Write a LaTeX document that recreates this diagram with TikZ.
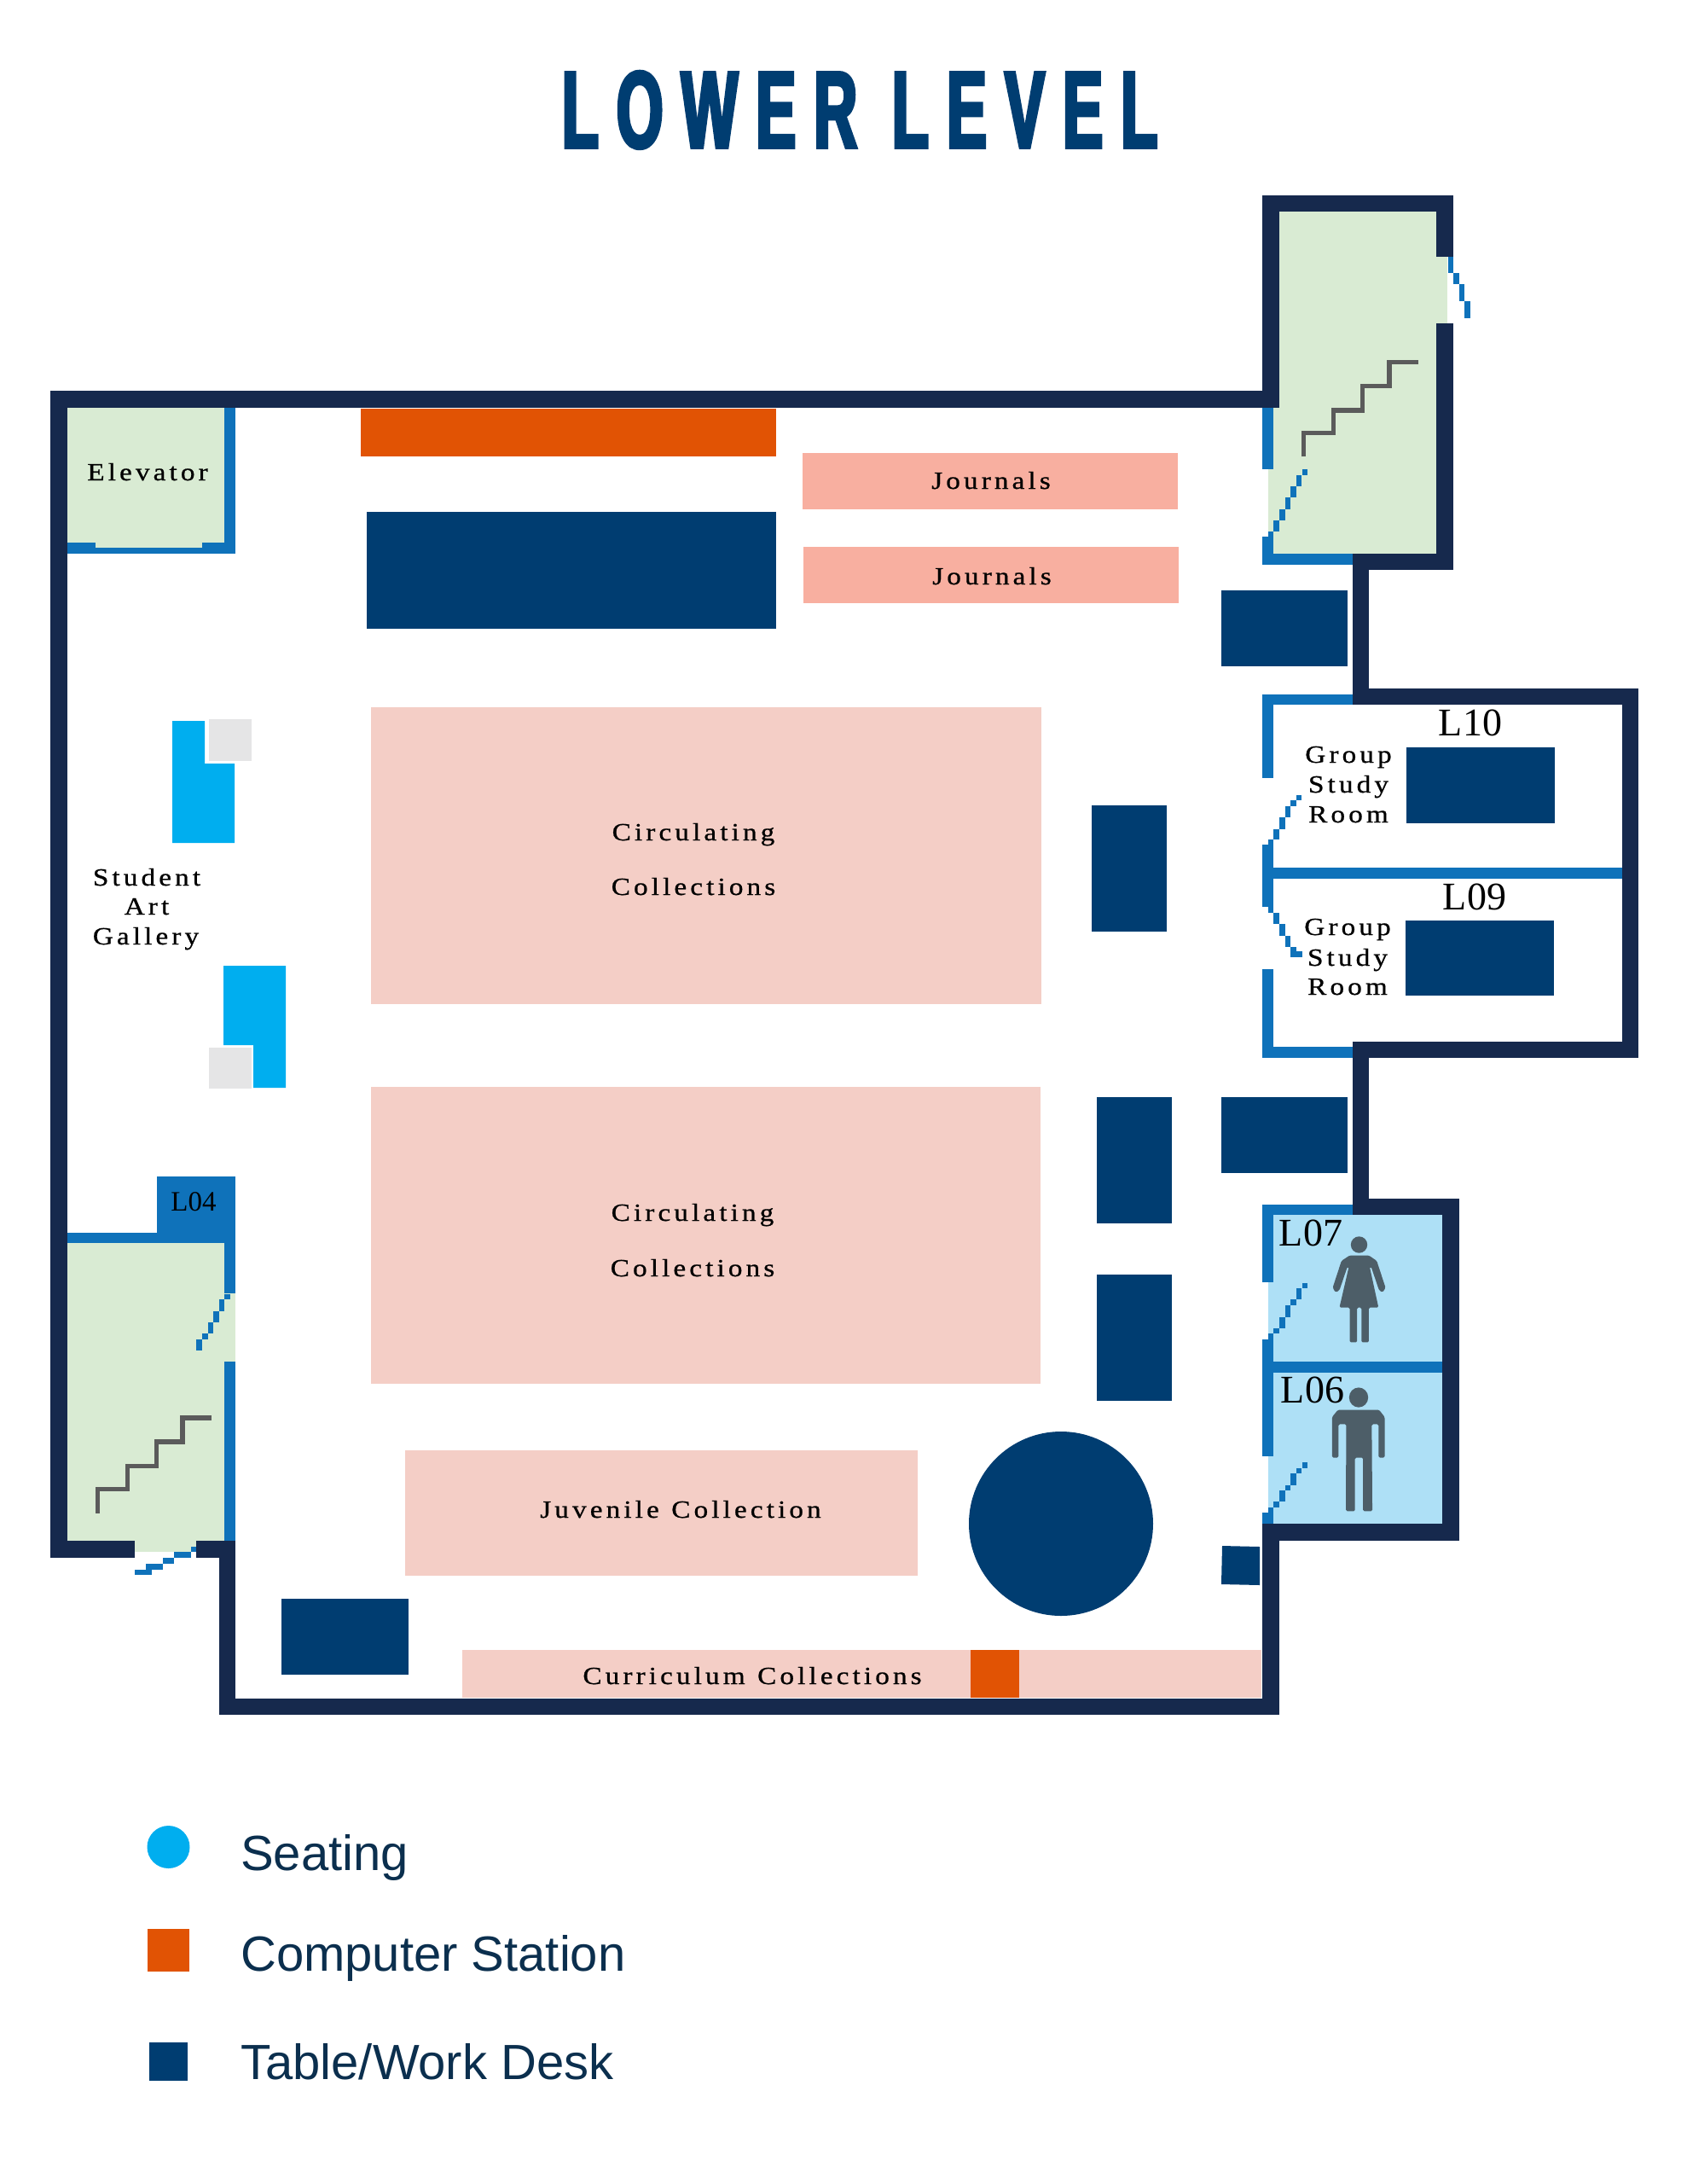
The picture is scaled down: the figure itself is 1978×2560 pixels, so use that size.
\documentclass[tikz,border=0pt]{standalone}
\usepackage{fontspec}
\setmainfont{Liberation Serif}
\newfontfamily\titlefont[LetterSpace=16.5,FakeStretch=0.55,FakeBold=3]{Liberation Sans}
\newfontfamily\legendfont{Liberation Sans}
\newfontfamily\spacedfont[LetterSpace=14,FakeStretch=1.15,FakeBold=0.7]{Liberation Serif}
\definecolor{wallc}{HTML}{16294D}
\definecolor{bluewall}{HTML}{0F72BA}
\definecolor{greenroom}{HTML}{D9EBD3}
\definecolor{wcroom}{HTML}{AEE0F6}
\definecolor{deskc}{HTML}{003D71}
\definecolor{orangec}{HTML}{E15304}
\definecolor{pinkc}{HTML}{F4CEC6}
\definecolor{journalc}{HTML}{F8AFA0}
\definecolor{seatc}{HTML}{00AEEF}
\definecolor{grayc}{HTML}{E5E5E6}
\definecolor{stairc}{HTML}{5B5B5B}
\definecolor{iconc}{HTML}{4D5E68}
\definecolor{titlec}{HTML}{003D71}
\definecolor{legendc}{HTML}{0B2F4E}
\tikzset{
  wallfill/.style={fill=wallc},
  bluefill/.style={fill=bluewall},
  greenfill/.style={fill=greenroom},
  wcfill/.style={fill=wcroom},
  deskfill/.style={fill=deskc},
  orangefill/.style={fill=orangec},
  pinkfill/.style={fill=pinkc},
  journalfill/.style={fill=journalc},
  seatfill/.style={fill=seatc},
  grayfill/.style={fill=grayc},
  iconfill/.style={fill=iconc,rounded corners=1.5pt},
  headfill/.style={fill=iconc},
  stairline/.style={draw=stairc,line width=5.5pt,miter limit=10},
  txt/.style={inner sep=0pt,anchor=base,text=black},
  spaced/.style={txt,font=\spacedfont\fontsize{29}{29}\selectfont},
  roomno/.style={txt,font=\fontsize{46}{46}\selectfont},
  legendtxt/.style={inner sep=0pt,anchor=base west,text=legendc,font=\legendfont\fontsize{58}{58}\selectfont},
  zoomA/.style={x=0.34439pt,y=-0.42092pt},
  zoomB/.style={x=0.33333pt,y=-0.43367pt}
}
\begin{document}
\begin{tikzpicture}[x=1pt,y=-1pt]
\useasboundingbox (0,0) rectangle (1978,2560);
\fill[white] (0,0) rectangle (1978,2560);

% title
\node[inner sep=0pt,anchor=base,text=titlec,font=\titlefont\bfseries\fontsize{128}{128}\selectfont] (title) at (1008,173) {LOWER LEVEL};

% room floors
\foreach \a/\b/\c/\d in {1487/248/1684/649,1684/301/1697/379,79/1457/263/1806,263/1516/276/1596,158/1806/230/1819,79/478/263/636,112/636/237/642}
  \fill[greenfill] (\a,\b) rectangle (\c,\d);
\fill[wcfill] (1487,1424) rectangle (1691,1786);

% furniture and collections
\fill[orangefill] (423,479) rectangle (910,535);
\foreach \a/\b/\c/\d in {430/600/910/737,1432/692/1580/781,1280/944/1368/1092,1286/1286/1374/1434,1286/1494/1374/1642,1432/1286/1580/1375,1649/876/1823/965,1648/1079/1822/1167,330/1874/479/1963}
  \fill[deskfill] (\a,\b) rectangle (\c,\d);
\fill[deskfill] (1433,1812) -- (1477,1813) -- (1477,1858) -- (1432,1857) -- cycle;
\fill[deskfill] (1244,1786) circle [radius=108pt];
\foreach \a/\b/\c/\d in {941/531/1381/597,942/641/1382/707}
  \fill[journalfill] (\a,\b) rectangle (\c,\d);
\foreach \a/\b/\c/\d in {435/829/1221/1177,435/1274/1220/1622,475/1700/1076/1847,542/1934/1479/1990}
  \fill[pinkfill] (\a,\b) rectangle (\c,\d);
\fill[orangefill] (1138,1934) rectangle (1195,1990);

% gallery seating and plinths
\fill[seatfill] (202,845) -- (240,845) -- (240,895) -- (275,895) -- (275,988) -- (202,988) -- cycle;
\fill[seatfill] (262,1132) -- (335,1132) -- (335,1275) -- (297,1275) -- (297,1225) -- (262,1225) -- cycle;
\fill[grayfill] (245,843) rectangle (295,892);
\fill[grayfill] (245,1228) rectangle (295,1276);

% inner (blue) walls
\foreach \a/\b/\c/\d in {1480/478/1493/550,1480/629/1493/662,1480/649/1586/662,
  1480/814/1586/826,1480/814/1493/912,1480/990/1493/1063,1493/1017/1902/1030,1480/1136/1493/1240,1480/1227/1586/1240,
  1480/1412/1586/1424,1480/1412/1493/1503,1480/1570/1493/1707,1493/1596/1691/1609,1480/1773/1493/1786,
  184/1379/276/1457,79/1445/276/1457,263/1379/276/1516,263/1596/276/1806,
  263/478/276/649,79/636/112/649,237/636/276/649,112/642/237/649}
  \fill[bluefill] (\a,\b) rectangle (\c,\d);

% outer walls
\foreach \a/\b/\c/\d in {59/458/79/1826,59/458/1500/478,1480/229/1500/478,1480/229/1704/248,1684/229/1704/301,1684/379/1704/668,
  1586/649/1704/668,1586/649/1605/826,1586/807/1921/826,1902/807/1921/1240,1586/1221/1921/1240,1586/1221/1605/1424,
  1586/1405/1711/1424,1691/1405/1711/1806,1480/1786/1711/1806,1480/1786/1500/2010,257/1991/1500/2010,257/1806/276/2010,
  230/1806/276/1826,59/1806/158/1826}
  \fill[wallfill] (\a,\b) rectangle (\c,\d);

% door swings and stairs, upper right block (zoom units)
\begin{scope}[shift={(1400pt,-200pt)},zoomA]
  \foreach \a/\b/\c/\d in {368/832/386/848,348/848/367/880,329/880/348/911,310/911/329/942,290/942/310/974,271/974/290/1005,252/1005/271/1020,
    864/239/883/286,883/286/902/317,902/317/921/364,921/364/940/411}
    \fill[bluefill] (\a,\b) rectangle (\c,\d);
  \draw[stairline] (373,797) -- (373,730) -- (475,730) -- (475,667) -- (573,667) -- (573,600) -- (665,600) -- (665,533) -- (763,533);
\end{scope}
\begin{scope}[shift={(1400pt,-780pt)},zoomA]
  \foreach \a/\b/\c/\d in {347/362/366/375,329/375/348/392,310/392/329/423,290/423/310/455,271/455/290/485,252/485/271/500,
    252/672/271/688,271/688/290/720,290/720/310/752,310/752/329/783,329/783/348/813,348/797/368/813}
    \fill[bluefill] (\a,\b) rectangle (\c,\d);
\end{scope}
\begin{scope}[shift={(1400pt,-1360pt)},zoomA]
  \foreach \a/\b/\c/\d in {368/342/386/356,349/356/367/388,329/388/348/404,310/404/329/436,290/436/310/467,271/467/290/483,252/483/271/498,
    368/842/386/858,348/858/367/873,329/873/348/904,310/904/329/920,290/920/310/951,271/951/290/967,252/967/271/982}
    \fill[bluefill] (\a,\b) rectangle (\c,\d);
  % woman
  \fill[iconfill] (530,265) -- (595,265) -- (622,280) -- (652,355) -- (642,368) -- (630,362) -- (603,297) -- (598,297) -- (628,410) -- (595,410) -- (595,507) -- (570,507) -- (570,410) -- (555,410) -- (555,507) -- (530,507) -- (530,410) -- (495,410) -- (527,297) -- (522,297) -- (495,362) -- (482,368) -- (472,355) -- (502,280) -- cycle;
  % man
  \fill[iconfill] (490,695) -- (630,695) -- (649,715) -- (649,828) -- (628,828) -- (628,735) -- (605,735) -- (607,977) -- (575,977) -- (575,828) -- (548,828) -- (548,977) -- (517,977) -- (518,735) -- (492,735) -- (492,828) -- (470,828) -- (470,715) -- cycle;
\end{scope}
\fill[headfill] (1593.5,1459) ellipse [x radius=9.7pt,y radius=9.7pt];
\fill[headfill] (1593,1638) ellipse [x radius=11.2pt,y radius=11.6pt];
\begin{scope}[shift={(40pt,-1340pt)},zoomB]
  \foreach \a/\b/\c/\d in {669/407/690/423,650/423/669/454,631/454/650/484,611/484/631/514,591/514/611/530,571/530/591/560,
    354/1152/413/1166,394/1137/452/1152,453/1121/492/1137,492/1105/551/1121,551/1090/571/1105}
    \fill[bluefill] (\a,\b) rectangle (\c,\d);
  \draw[stairline] (223,1000) -- (223,935) -- (328,935) -- (328,873) -- (430,873) -- (430,807) -- (522,807) -- (522,742) -- (625,742);
\end{scope}

% labels
\node[spaced] (elevator) at (173,563) {Elevator};
\node[spaced] (student) at (172,1038) {Student};
\node[spaced] (art) at (172,1072) {Art};
\node[spaced] (gallery) at (171,1107) {Gallery};
\node[spaced] (journalsA) at (1162,573) {Journals};
\node[spaced] (journalsB) at (1163,685) {Journals};
\node[spaced] (circA) at (813,985) {Circulating};
\node[spaced] (collA) at (813,1049) {Collections};
\node[spaced] (circB) at (812,1431) {Circulating};
\node[spaced] (collB) at (812,1496) {Collections};
\node[spaced] (juvenile) at (798,1779) {Juvenile\ \hspace{2pt}Collection};
\node[spaced] (curriculum) at (882,1974) {Curriculum\ \hspace{2pt}Collections};
\node[spaced] (groupA) at (1581,894) {Group};
\node[spaced] (studyA) at (1581,929) {Study};
\node[spaced] (roomA) at (1581,964) {Room};
\node[spaced] (groupB) at (1580,1096) {Group};
\node[spaced] (studyB) at (1580,1132) {Study};
\node[spaced] (roomB) at (1580,1166) {Room};
\node[roomno] (lten) at (1724,862) {L10};
\node[roomno] (lnine) at (1729,1066) {L09};
\node[roomno] (lseven) at (1537,1460) {L07};
\node[roomno] (lsix) at (1539,1644) {L06};
\node[txt,font=\fontsize{33}{33}\selectfont] (lfour) at (227,1419) {L04};

% legend
\fill[seatfill] (197.5,2165) circle [radius=25pt];
\fill[orangefill] (173,2261) rectangle (222,2311);
\fill[deskfill] (175,2394) rectangle (220,2439);
\node[legendtxt] (legA) at (282,2192) {Seating};
\node[legendtxt] (legB) at (282,2310) {Computer Station};
\node[legendtxt] (legC) at (282,2437) {Table/Work Desk};
\end{tikzpicture}
\end{document}
